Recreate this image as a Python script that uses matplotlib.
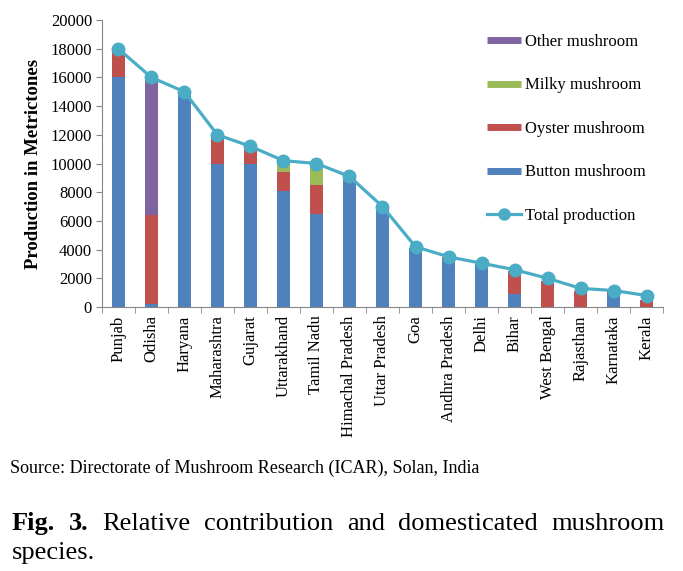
import matplotlib
matplotlib.use("Agg")
import matplotlib.pyplot as plt
import numpy as np
from matplotlib.lines import Line2D

states = ["Punjab", "Odisha", "Haryana", "Maharashtra", "Gujarat", "Uttarakhand",
          "Tamil Nadu", "Himachal Pradesh", "Uttar Pradesh", "Goa", "Andhra Pradesh",
          "Delhi", "Bihar", "West Bengal", "Rajasthan", "Karnataka", "Kerala"]
button = [16000, 200, 14900, 10000, 10000, 8100, 6500, 8900, 6800, 4100, 3300, 3000, 900, 0, 0, 900, 0]
oyster = [2000, 6200, 0, 1900, 1000, 1300, 2000, 0, 0, 0, 200, 0, 1600, 1800, 1100, 200, 500]
milky = [0, 0, 0, 0, 0, 700, 1400, 0, 0, 0, 0, 0, 0, 0, 0, 0, 0]
other = [0, 9500, 0, 0, 0, 0, 0, 0, 0, 0, 0, 0, 0, 0, 0, 0, 0]
total = [18000, 16000, 15000, 12000, 11200, 10200, 10000, 9100, 7000, 4200, 3500, 3050, 2600, 2000, 1300, 1150, 800]
yticks = list(range(0, 20001, 2000))

c_button = "#4F81BD"
c_oyster = "#C0504D"
c_milky = "#9BBB59"
c_other = "#8064A2"
c_total = "#4BACC6"

serif = ["Liberation Serif", "DejaVu Serif"]
plt.rcParams["font.family"] = serif

fig = plt.figure(figsize=(6.83, 5.71), dpi=100)
ax = fig.add_axes([0.149, 0.4623, 0.822, 0.5027])

x = np.arange(len(states))
w = 0.4
b = np.array(button, float)
o = np.array(oyster, float)
m = np.array(milky, float)
ot = np.array(other, float)
ax.bar(x, b, w, color=c_button, zorder=2)
ax.bar(x, o, w, bottom=b, color=c_oyster, zorder=2)
ax.bar(x, m, w, bottom=b + o, color=c_milky, zorder=2)
ax.bar(x, ot, w, bottom=b + o + m, color=c_other, zorder=2)
ax.plot(x, total, color=c_total, lw=2.3, marker="o", ms=9, zorder=3)

ax.set_xlim(-0.5, len(states) - 0.5)
ax.set_ylim(0, 20000)
ax.set_yticks(yticks)
ax.set_yticklabels([str(v) for v in yticks], fontsize=12)
ax.set_xticks(x)
ax.set_xticklabels(states, rotation=90, fontsize=12, va="top", ha="center")
ax.set_xticks(np.arange(-0.5, len(states)), minor=True)
ax.tick_params(axis="x", which="major", length=0, pad=6)
ax.tick_params(axis="x", which="minor", length=4, color="#868686", direction="out")
ax.tick_params(axis="y", length=4, color="#868686", direction="out", pad=3)
for s in ["top", "right"]:
    ax.spines[s].set_visible(False)
for s in ["left", "bottom"]:
    ax.spines[s].set_color("#868686")
    ax.spines[s].set_linewidth(0.8)
ax.set_ylabel("Production in Metrictones", fontsize=13.5, fontweight="bold", labelpad=6)

handles = [
    Line2D([], [], color=c_other, lw=5, solid_capstyle="butt"),
    Line2D([], [], color=c_milky, lw=5, solid_capstyle="butt"),
    Line2D([], [], color=c_oyster, lw=5, solid_capstyle="butt"),
    Line2D([], [], color=c_button, lw=5, solid_capstyle="butt"),
    Line2D([], [], color=c_total, lw=2.3, marker="o", ms=8),
]
labels = ["Other mushroom", "Milky mushroom", "Oyster mushroom", "Button mushroom", "Total production"]
fig.legend(handles, labels, loc="upper left", bbox_to_anchor=(0.691, 0.967),
           frameon=False, fontsize=12, handlelength=2.05, handletextpad=0.25,
           labelspacing=1.65)

fig.text(10 / 683, 1 - 468 / 571, "Source: Directorate of Mushroom Research (ICAR), Solan, India",
         fontsize=13, va="center", ha="left", family=serif)

# justified first caption line
fig.canvas.draw()
renderer = fig.canvas.get_renderer()
words = [("Fig.", "bold"), ("3.", "bold"), ("Relative", "normal"), ("contribution", "normal"),
         ("and", "normal"), ("domesticated", "normal"), ("mushroom", "normal")]
cap_size = 19
y1 = 1 - 530 / 571
objs = []
for wtxt, fw in words:
    t = fig.text(0, y1, wtxt, fontsize=cap_size, fontweight=fw, ha="left",
                 va="baseline", family=serif)
    objs.append(t)
widths = [t.get_window_extent(renderer).width for t in objs]
left_px, right_px = 12, 665
gap = (right_px - left_px - sum(widths)) / (len(objs) - 1)
cur = left_px
for t, wd in zip(objs, widths):
    t.set_x(cur / 683)
    cur += wd + gap
fig.text(left_px / 683, 1 - 559 / 571, "species.", fontsize=cap_size, ha="left",
         va="baseline", family=serif)

fig.savefig("out.png", dpi=100)
